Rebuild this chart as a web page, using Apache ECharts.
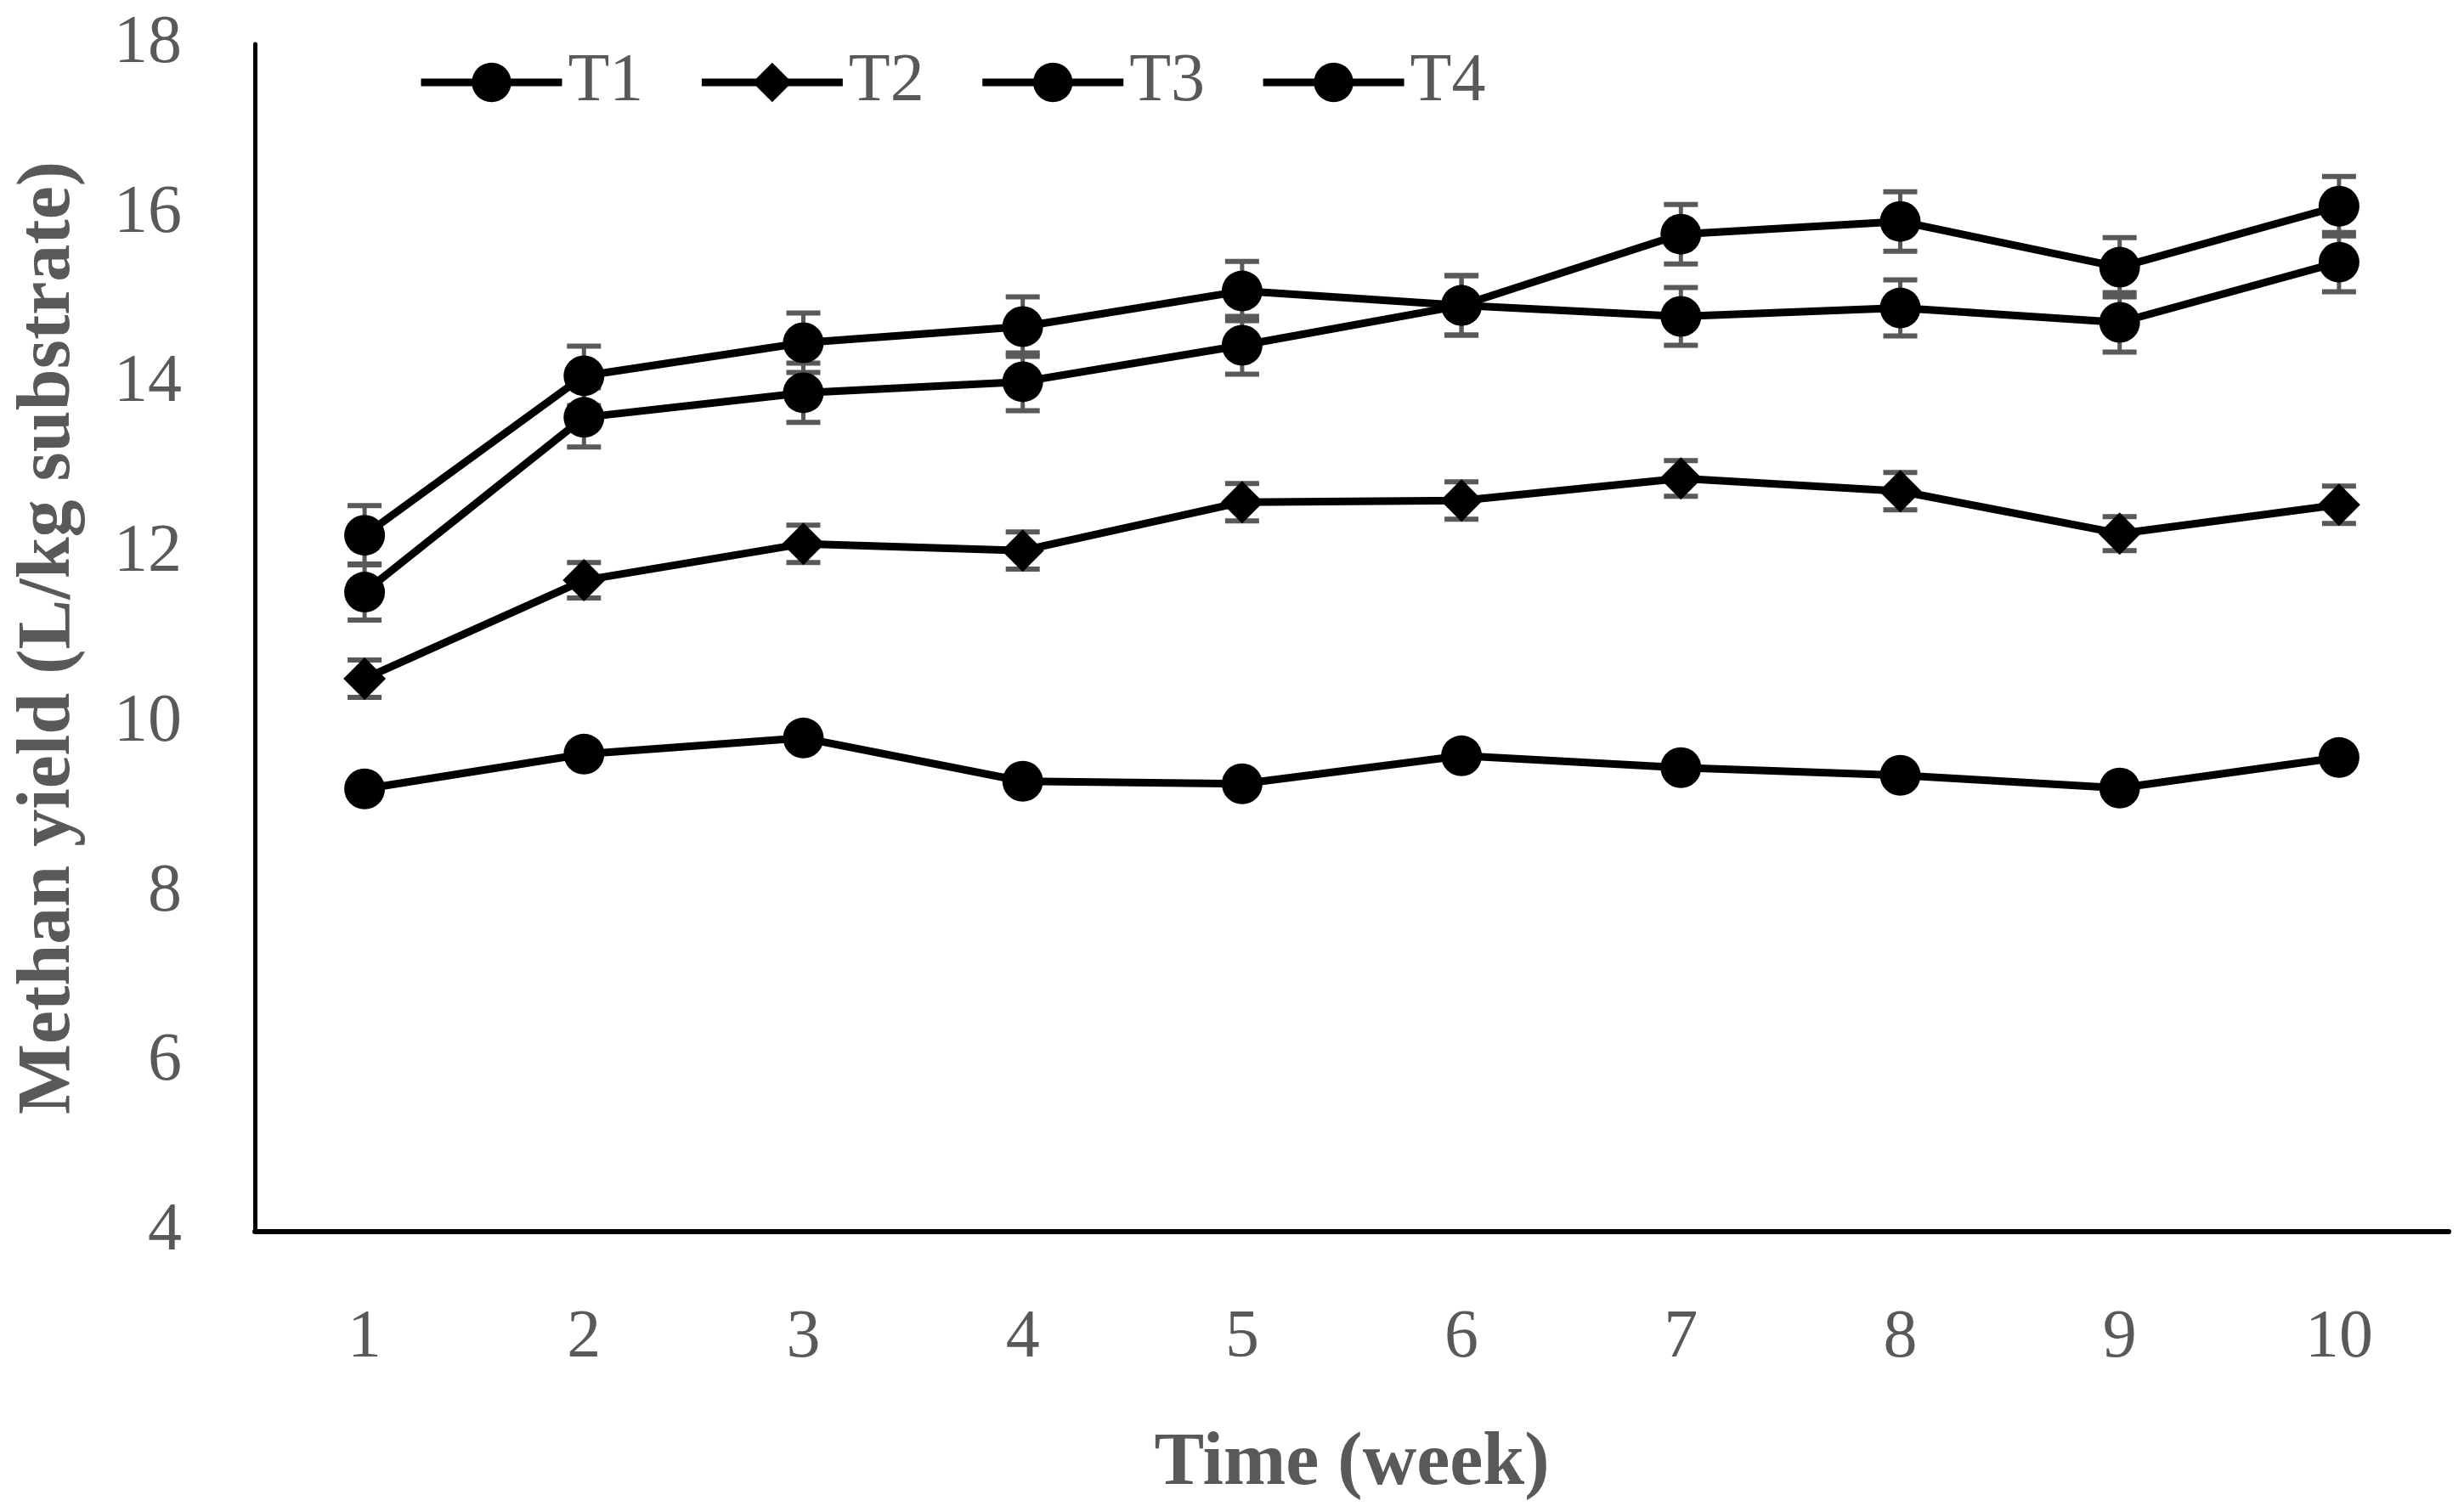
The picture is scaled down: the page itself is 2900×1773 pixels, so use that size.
<!DOCTYPE html>
<html>
<head>
<meta charset="utf-8">
<script src="https://cdn.jsdelivr.net/npm/echarts@6/dist/echarts.min.js"></script>
<style>
html,body{margin:0;padding:0;background:#fff;}
#chart{width:2900px;height:1773px;}
</style>
</head>
<body>
<div id="chart"></div>
<script>
const weeks = ['1','2','3','4','5','6','7','8','9','10'];
const seriesNames = ['T1','T2','T3','T4'];
const t1 = [12.21, 14.09, 14.48, 14.67, 15.09, 14.92, 14.79, 14.89, 14.72, 15.43];
const t2 = [10.52, 11.68, 12.11, 12.03, 12.60, 12.62, 12.88, 12.73, 12.23, 12.57];
const t3 = [11.54, 13.60, 13.89, 14.02, 14.45, 14.92, 15.76, 15.91, 15.37, 16.09];
const t4 = [9.22, 9.63, 9.82, 9.31, 9.28, 9.61, 9.47, 9.38, 9.23, 9.59];
const t1Err = [0.35, 0.35, 0.35, 0.35, 0.35, 0.35, 0.34, 0.33, 0.35, 0.35];
const t2Err = [0.22, 0.21, 0.22, 0.22, 0.22, 0.22, 0.21, 0.22, 0.20, 0.22];
const t3Err = [0.33, 0.35, 0.35, 0.34, 0.34, 0.35, 0.35, 0.35, 0.35, 0.35];
const yTicks = { min: 4, max: 18, interval: 2 };
const xTitle = 'Time (week)';
const yTitle = 'Methan yield (L/kg substrate)';

const FONT = '"Liberation Serif", serif';
const GREY = '#595959';

function errData(vals, errs) {
  return vals.map((v, i) => [i, v - errs[i], v + errs[i]]);
}
function errSeries(vals, errs) {
  return {
    type: 'custom',
    z: 1,
    silent: true,
    data: errData(vals, errs),
    encode: { x: 0, y: [1, 2] },
    renderItem: function (params, api) {
      const x = api.value(0);
      const lo = api.coord([x, api.value(1)]);
      const hi = api.coord([x, api.value(2)]);
      const hw = 20;
      const style = { stroke: GREY, lineWidth: 6 };
      return {
        type: 'group',
        children: [
          { type: 'line', shape: { x1: lo[0], y1: lo[1], x2: hi[0], y2: hi[1] }, style: { stroke: GREY, lineWidth: 5 } },
          { type: 'line', shape: { x1: lo[0] - hw, y1: lo[1], x2: lo[0] + hw, y2: lo[1] }, style: style },
          { type: 'line', shape: { x1: hi[0] - hw, y1: hi[1], x2: hi[0] + hw, y2: hi[1] }, style: style }
        ]
      };
    }
  };
}
function lineSeries(name, vals, symbol, size) {
  return {
    name: name,
    type: 'line',
    z: 3,
    data: vals,
    symbol: symbol,
    symbolSize: size,
    showAllSymbol: true,
    lineStyle: { color: '#000', width: 9 },
    itemStyle: { color: '#000' },
    emphasis: { disabled: true }
  };
}

const chart = echarts.init(document.getElementById('chart'), null, { renderer: 'canvas' });
chart.setOption({
  backgroundColor: '#fff',
  animation: false,
  legend: {
    data: seriesNames,
    left: 486,
    top: 52,
    itemWidth: 166,
    itemHeight: 58,
    itemGap: 64,
    lineStyle: { color: '#000', width: 9 },
    textStyle: { fontFamily: FONT, fontSize: 80, color: GREY, padding: [0, 0, 0, 2] }
  },
  grid: { left: 300, right: 18, top: 52, bottom: 322 },
  xAxis: {
    type: 'category',
    data: weeks,
    boundaryGap: true,
    axisLine: { show: true, lineStyle: { color: '#000', width: 6 } },
    axisTick: { show: false },
    axisLabel: { fontFamily: FONT, fontSize: 80, color: GREY, margin: 86 },
    splitLine: { show: false },
    name: xTitle,
    nameLocation: 'middle',
    nameGap: 230,
    nameTextStyle: { fontFamily: FONT, fontSize: 88, fontWeight: 'bold', color: GREY }
  },
  yAxis: {
    type: 'value',
    min: yTicks.min,
    max: yTicks.max,
    interval: yTicks.interval,
    axisLine: { show: true, lineStyle: { color: '#000', width: 5 } },
    axisTick: { show: false },
    splitLine: { show: false },
    axisLabel: { fontFamily: FONT, fontSize: 80, color: GREY, margin: 86 },
    name: yTitle,
    nameLocation: 'middle',
    nameGap: 198,
    nameTextStyle: { fontFamily: FONT, fontSize: 88, fontWeight: 'bold', color: GREY }
  },
  series: [
    errSeries(t1, t1Err),
    errSeries(t2, t2Err),
    errSeries(t3, t3Err),
    lineSeries('T1', t1, 'circle', 48),
    lineSeries('T2', t2, 'diamond', 50),
    lineSeries('T3', t3, 'circle', 48),
    lineSeries('T4', t4, 'circle', 48)
  ]
});
</script>
</body>
</html>
